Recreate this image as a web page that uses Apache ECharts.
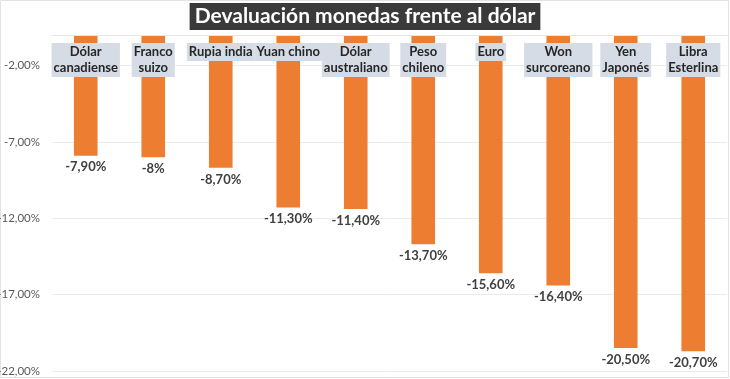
<!DOCTYPE html>
<html>
<head>
<meta charset="utf-8">
<script src="https://cdn.jsdelivr.net/npm/echarts@6/dist/echarts.min.js"></script>
<style>
html,body{margin:0;padding:0;background:#fff;}
#c{width:730px;height:379px;}
</style>
</head>
<body>
<div id="c"></div>
<script>
const categories = ['Dólar\ncanadiense','Franco\nsuizo','Rupia india','Yuan chino','Dólar\naustraliano','Peso\nchileno','Euro','Won\nsurcoreano','Yen\nJaponés','Libra\nEsterlina'];
const values = [-7.9,-8,-8.7,-11.3,-11.4,-13.7,-15.6,-16.4,-20.5,-20.7];
const valueLabels = ['-7,90%','-8%','-8,70%','-11,30%','-11,40%','-13,70%','-15,60%','-16,40%','-20,50%','-20,70%'];
const titleText = 'Devaluación monedas frente al dólar';

const chart = echarts.init(document.getElementById('c'));
chart.setOption({
  animation:false,
  backgroundColor:'#ffffff',
  textStyle:{fontFamily:'Lato'},
  title:{
    text:titleText, left:'center', top:3,
    backgroundColor:'#3a3a3a', padding:[3,5,3,5],
    textStyle:{color:'#ffffff',fontSize:21,fontWeight:'bold',fontFamily:'Lato'}
  },
  grid:{left:52,right:3,top:35,bottom:8,containLabel:false,outerBoundsMode:'none'},
  xAxis:{
    type:'category', data:categories, position:'top', z:10,
    axisLine:{show:true,lineStyle:{color:'#e6e6e6'}},
    axisTick:{show:false},
    axisLabel:{
      inside:true, interval:0, margin:8,
      backgroundColor:'#D6DCE5', padding:[1,2,1,2], align:'center', verticalAlign:'top',
      formatter:v=>v.split('\n').map(s=>'{a|'+s+'}').join('\n'),
      rich:{a:{align:'center',color:'#262626',fontSize:13,fontWeight:'bold',fontFamily:'Lato',lineHeight:16}}
    }
  },
  yAxis:{
    type:'value', min:-22, max:0, interval:5,
    axisLine:{show:false}, axisTick:{show:false},
    splitLine:{lineStyle:{color:'#ebebeb'}},
    axisLabel:{
      showMaxLabel:false, margin:12, color:'#595959', fontSize:11.5, fontFamily:'Lato',
      formatter:v=>v.toFixed(2).replace('.',',')+'%'
    }
  },
  series:[{
    type:'bar', data:values, barWidth:'35%', z:1,
    itemStyle:{color:'#ED7D31'},
    label:{
      show:true, position:'bottom', distance:5,
      color:'#404040', fontSize:13, fontWeight:'bold', fontFamily:'Lato',
      formatter:p=>valueLabels[p.dataIndex]
    }
  }],
  graphic:[{type:'rect',shape:{x:0.5,y:0.5,width:728,height:377},style:{fill:'none',stroke:'#e3e3e3',lineWidth:1},silent:true}]
});
</script>
</body>
</html>
